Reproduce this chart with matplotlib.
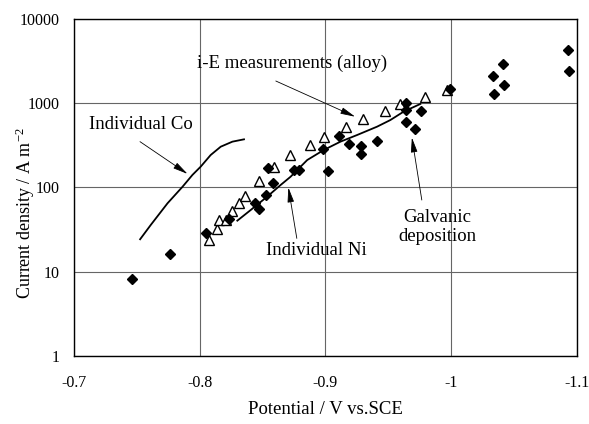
import matplotlib
matplotlib.use("Agg")
import matplotlib.pyplot as plt

plt.rcParams["font.family"] = "Liberation Serif"
plt.rcParams["mathtext.fontset"] = "custom"
plt.rcParams["mathtext.rm"] = "Liberation Serif"
plt.rcParams["mathtext.it"] = "Liberation Serif:italic"

# i-E measurements on the alloy (open triangles)
alloy_E = [-0.807, -0.814, -0.815, -0.821, -0.826, -0.831, -0.836, -0.847, -0.859,
           -0.872, -0.888, -0.899, -0.916, -0.930, -0.947, -0.959, -0.979, -0.997]
alloy_i = [24, 32, 41, 41, 53, 65, 80, 119, 177,
           243, 319, 401, 527, 653, 802, 980, 1186, 1437]

# galvanic deposition (filled diamonds)
galv_E = [-0.746, -0.776, -0.805, -0.823, -0.844, -0.847, -0.853, -0.858, -0.854, -0.875,
          -0.879, -0.898, -0.902, -0.911, -0.919, -0.928, -0.928, -0.941, -0.964, -0.964,
          -0.976, -0.964, -0.971, -0.999, -1.033, -1.041, -1.042, -1.034, -1.093, -1.094]
galv_i = [8.1, 16.3, 29, 42, 65, 56, 82, 114, 169, 162,
          162, 284, 158, 408, 328, 311, 247, 353, 1000, 832,
          820, 607, 491, 1456, 2133, 2926, 1626, 1288, 4285, 2433]

# individual metal curves
co_E = [-0.7526, -0.7611, -0.7744, -0.7863, -0.7942, -0.8008, -0.8087, -0.8167, -0.8260, -0.8352]
co_i = [24.3, 36, 65, 102, 141, 177, 243, 305, 350, 373]
ni_E = [-0.8299, -0.8405, -0.8537, -0.8643, -0.8722, -0.8855, -0.8987,
        -0.9119, -0.9252, -0.9410, -0.9516, -0.9621, -0.9754]
ni_i = [40.4, 54, 78, 107, 134, 212, 279, 350, 420, 527, 632, 794, 980]

x_ticks = [-0.7, -0.8, -0.9, -1.0, -1.1]
x_tick_labels = ["-0.7", "-0.8", "-0.9", "-1", "-1.1"]
y_ticks = [1, 10, 100, 1000, 10000]
y_tick_labels = ["1", "10", "100", "1000", "10000"]

fig = plt.figure(figsize=(5.89, 4.24), dpi=100)
ax = fig.add_axes([0.1256, 0.1604, 0.854, 0.7948])
ax.set_yscale("log")
ax.set_xlim(-0.7, -1.1)
ax.set_ylim(1, 10000)
ax.set_xticks(x_ticks, x_tick_labels)
ax.set_yticks(y_ticks, y_tick_labels)
ax.yaxis.set_minor_locator(matplotlib.ticker.NullLocator())
ax.tick_params(which="both", length=0, labelsize=11.5)
ax.tick_params(axis="x", pad=14)
ax.tick_params(axis="y", pad=10)
ax.grid(True, color="#666666", lw=0.8)
ax.set_axisbelow(True)
for sp in ax.spines.values():
    sp.set_linewidth(1.0)

ax.plot(co_E, co_i, color="black", lw=1.3)
ax.plot(ni_E, ni_i, color="black", lw=1.3)
ax.plot(alloy_E, alloy_i, linestyle="none", marker="^", ms=7, mfc="white",
        mec="black", mew=1.0)
ax.plot(galv_E, galv_i, linestyle="none", marker="D", ms=4.8, color="black")

ax.set_xlabel("Potential / V vs.SCE", fontsize=13.5)
ax.xaxis.set_label_coords(0.5, -0.135)
ax.set_ylabel("Current density / A m$^{-2}$", fontsize=13)
ax.yaxis.set_label_coords(-0.074, 0.424)

arrow = dict(arrowstyle="-|>,head_length=0.9,head_width=0.2", lw=0.6,
             color="black", shrinkA=0, shrinkB=0)
fs = 13.5

ax.text(-0.8734, 3006, "i-E measurements (alloy)", fontsize=fs, ha="center", va="center")
ax.annotate("", xy=(-0.9236, 692), xytext=(-0.8605, 1837), arrowprops=arrow)

ax.text(-0.7529, 552, "Individual Co", fontsize=fs, ha="center", va="center")
ax.annotate("", xy=(-0.7903, 145), xytext=(-0.7525, 350), arrowprops=arrow)

ax.text(-0.8925, 18.1, "Individual Ni", fontsize=fs, ha="center", va="center")
ax.annotate("", xy=(-0.8705, 100), xytext=(-0.8772, 24.9), arrowprops=arrow)

ax.text(-0.9888, 34, "Galvanic\ndeposition", fontsize=fs, ha="center", va="center",
        linespacing=1.15)
ax.annotate("", xy=(-0.9687, 392), xytext=(-0.9766, 71), arrowprops=arrow)

fig.savefig("out.png", dpi=100)
